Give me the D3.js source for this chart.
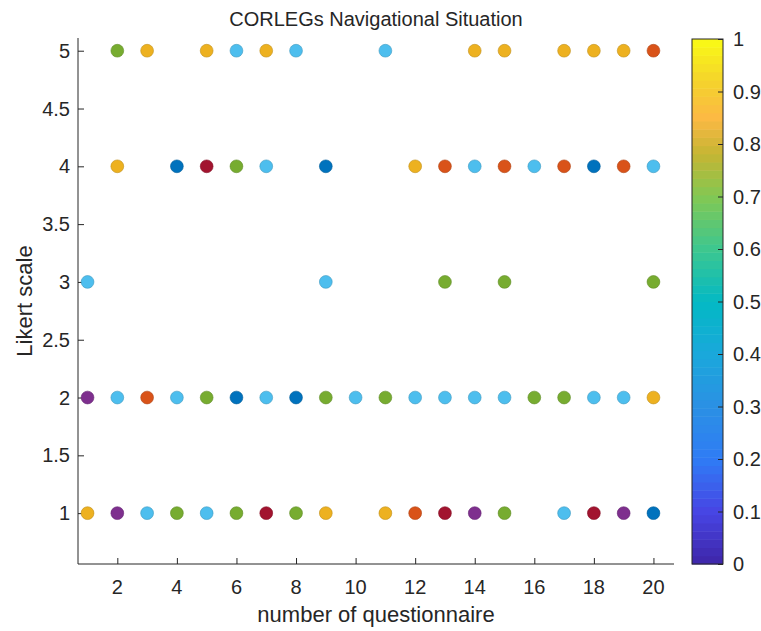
<!DOCTYPE html>
<html>
<head>
<meta charset="utf-8">
<script src="https://cdn.jsdelivr.net/npm/d3@7"></script>
<style>
  body { margin: 0; background: #fff; }
  text { font-family: "Liberation Sans", Arial, sans-serif; fill: #262626; }
</style>
</head>
<body>
<div id="container"></div>
<script>
// questionnaire numbers on the x axis
const questionnaires = d3.range(1, 21);

// group of the answer shown at each questionnaire for each Likert level (0 = no answer)
// groups: 1 blue, 2 orange, 3 yellow, 4 purple, 5 green, 6 light blue, 7 dark red
const likert5 = [0,5,3,0,3,6,3,6,0,0,6,0,0,3,3,0,3,3,3,2];
const likert4 = [0,3,0,1,7,5,6,0,1,0,0,3,2,6,2,6,2,1,2,6];
const likert3 = [6,0,0,0,0,0,0,0,6,0,0,0,5,0,5,0,0,0,0,5];
const likert2 = [4,6,2,6,5,1,6,1,5,6,5,6,6,6,6,5,5,6,6,3];
const likert1 = [3,4,6,5,6,5,7,5,3,0,3,2,7,4,5,0,6,7,4,1];

const xTicks = d3.range(2, 21, 2);
const yTicks = [1, 1.5, 2, 2.5, 3, 3.5, 4, 4.5, 5];
const cbTicks = d3.range(0, 11).map(d => d / 10);

const w = 761, h = 631;
const padL = 78, padR = 674, padT = 38, padB = 564;

const rows = [[1, likert1], [2, likert2], [3, likert3], [4, likert4], [5, likert5]];
const points = [];
rows.forEach(([lv, arr]) => {
  arr.forEach((g, i) => { if (g) points.push({ q: questionnaires[i], v: lv, g: g }); });
});

const groupColor = d3.scaleOrdinal()
  .domain([1, 2, 3, 4, 5, 6, 7])
  .range(["#0072BD", "#D95319", "#EDB120", "#7E2F8E", "#77AC30", "#4DBEEE", "#A2142F"]);

const xScale = d3.scaleLinear().domain([0.68, 20.69]).range([padL, padR]);
const yScale = d3.scaleLinear().domain([0.56, 5.11]).range([padB, padT]);

const svg = d3.select("#container").append("svg")
  .attr("width", w).attr("height", h);

// axes (MATLAB style, ticks pointing inward)
const xAxis = d3.axisTop(xScale).tickValues(xTicks).tickSize(6).tickFormat("");
const yAxis = d3.axisRight(yScale).tickValues(yTicks).tickSize(6).tickFormat("");

svg.append("g").attr("transform", "translate(0," + padB + ")").call(xAxis)
  .call(g => g.select(".domain").attr("d", "M" + padL + ",0H" + padR));
svg.append("g").attr("transform", "translate(" + padL + ",0)").call(yAxis)
  .call(g => g.select(".domain").attr("d", "M0," + padT + "V" + padB));
svg.selectAll(".domain, .tick line").attr("stroke", "#262626").attr("stroke-width", 1);

svg.append("g").selectAll("text").data(xTicks).enter().append("text")
  .attr("x", d => xScale(d)).attr("y", 594)
  .attr("text-anchor", "middle").attr("font-size", 20).text(d => d);

svg.append("g").selectAll("text").data(yTicks).enter().append("text")
  .attr("x", 70).attr("y", d => yScale(d) + 7)
  .attr("text-anchor", "end").attr("font-size", 20).text(d => d);

// points
svg.append("g").selectAll("circle").data(points).enter().append("circle")
  .attr("cx", d => xScale(d.q))
  .attr("cy", d => yScale(d.v))
  .attr("r", 6.4)
  .attr("fill", d => groupColor(d.g))
  .attr("stroke", d => d3.color(groupColor(d.g)).darker(0.6))
  .attr("stroke-width", 0.6);

// labels
svg.append("text").attr("x", (padL + padR) / 2).attr("y", 26)
  .attr("text-anchor", "middle").attr("font-size", 20)
  .text("CORLEGs Navigational Situation");
svg.append("text").attr("x", (padL + padR) / 2).attr("y", 622)
  .attr("text-anchor", "middle").attr("font-size", 22)
  .text("number of questionnaire");
svg.append("text").attr("transform", "translate(32," + ((padT + padB) / 2) + ") rotate(-90)")
  .attr("text-anchor", "middle").attr("font-size", 22)
  .text("Likert scale");

// colorbar (parula)
const parulaStops = [
  [0.00, "#3e26a8"], [0.10, "#4745e4"], [0.20, "#2f7cf5"], [0.30, "#2b90e4"],
  [0.40, "#1aa8db"], [0.50, "#03b9c4"], [0.60, "#3dc78f"], [0.70, "#82c853"],
  [0.78, "#c4b533"], [0.85, "#fcb944"], [0.92, "#f4d32c"], [1.00, "#f9fb15"]
];
const parula = d3.scaleLinear().domain(parulaStops.map(d => d[0])).range(parulaStops.map(d => d[1]));

const cbX = 692, cbW = 31;
const cbScale = d3.scaleLinear().domain([0, 1]).range([padB, padT + 1]);
const nBands = 64;
svg.append("g").selectAll("rect").data(d3.range(nBands)).enter().append("rect")
  .attr("x", cbX)
  .attr("y", i => cbScale((i + 1) / nBands))
  .attr("width", cbW)
  .attr("height", i => cbScale(i / nBands) - cbScale((i + 1) / nBands) + 0.5)
  .attr("fill", i => parula((i + 0.5) / nBands));

const cbAxis = d3.axisLeft(cbScale).tickValues(cbTicks).tickSize(5).tickFormat("");
svg.append("g").attr("transform", "translate(" + (cbX + cbW) + ",0)").call(cbAxis)
  .call(g => g.select(".domain").remove())
  .selectAll("line").attr("stroke", "#262626");
svg.append("rect").attr("x", cbX).attr("y", cbScale(1)).attr("width", cbW)
  .attr("height", cbScale(0) - cbScale(1))
  .attr("fill", "none").attr("stroke", "#262626").attr("stroke-width", 1);

svg.append("g").selectAll("text").data(cbTicks).enter().append("text")
  .attr("x", 733).attr("y", d => cbScale(d) + 7)
  .attr("font-size", 20).text(d => d);
</script>
</body>
</html>
